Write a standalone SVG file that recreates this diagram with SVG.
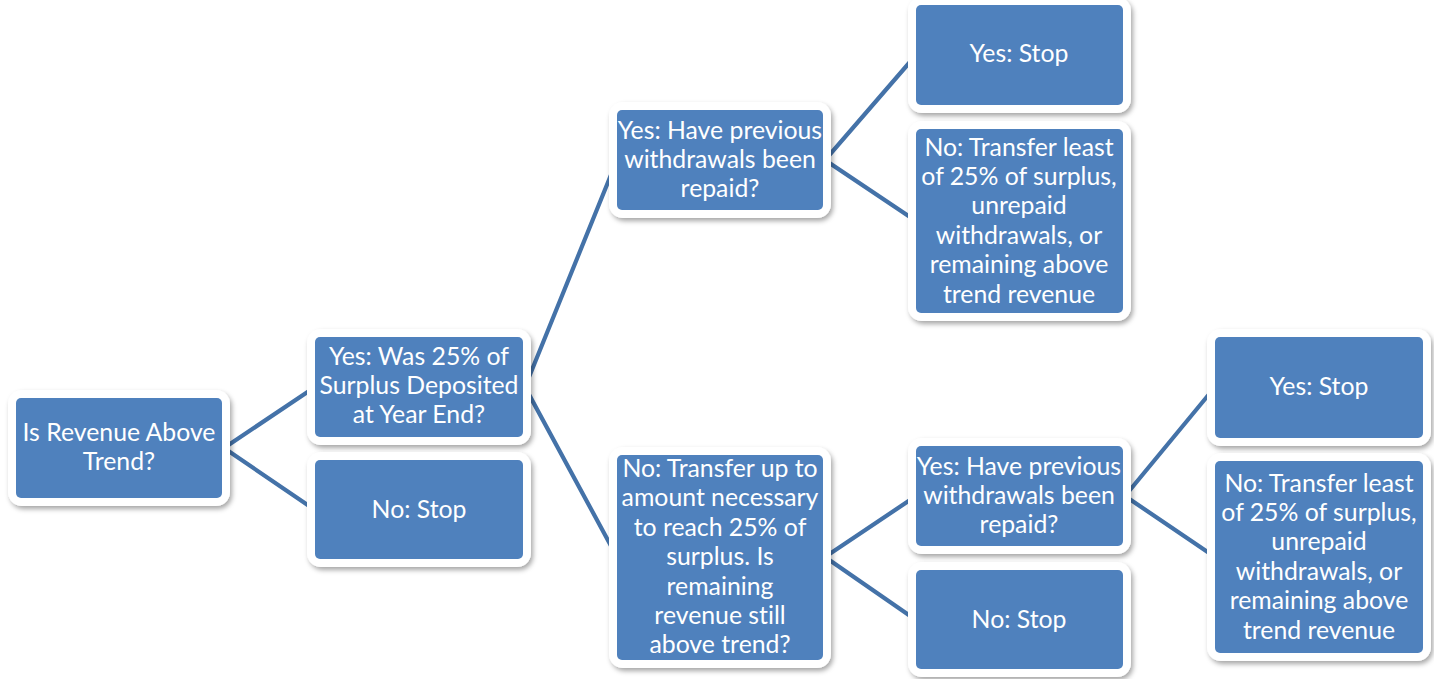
<svg xmlns="http://www.w3.org/2000/svg" width="1434" height="679" viewBox="0 0 1434 679">
<defs>
<style>
.frame{fill:#ffffff;filter:url(#sh);}
.box{fill:#4F81BD;}
.t{font-family:"Lato","Carlito","Calibri",sans-serif;font-size:24.8px;fill:#ffffff;text-anchor:middle;font-variant-ligatures:none;}
.c{stroke:#4472A8;stroke-width:4.2;fill:none;stroke-linejoin:miter;}
</style>
<filter id="sh" x="-20%" y="-20%" width="140%" height="140%">
<feDropShadow dx="2" dy="3" stdDeviation="2.5" flood-color="#000000" flood-opacity="0.35"/>
</filter>
</defs>
<rect width="1434" height="679" fill="#ffffff"/>
<g id="connectors">
<polyline class="c" points="315,387 224,448 315,510"/>
<polyline class="c" points="617,160 525,387 617,557"/>
<polyline class="c" points="916,55 825,160 916,221"/>
<polyline class="c" points="916,496 825,557 916,620"/>
<polyline class="c" points="1215,387 1125,496 1215,557"/>
</g>
<g id="n1">
<rect class="frame" x="8" y="390" width="222" height="116" rx="14"/>
<rect class="box" x="16" y="398" width="206" height="100" rx="5"/>
<text class="t"><tspan x="119" y="441">Is Revenue Above</tspan><tspan x="119" y="470">Trend?</tspan></text>
</g>
<g id="n2">
<rect class="frame" x="307" y="329" width="224" height="116" rx="14"/>
<rect class="box" x="315" y="337" width="208" height="100" rx="5"/>
<text class="t"><tspan x="419" y="365">Yes: Was 25% of</tspan><tspan x="419" y="394">Surplus Deposited</tspan><tspan x="419" y="423">at Year End?</tspan></text>
</g>
<g id="n3">
<rect class="frame" x="307" y="452" width="224" height="115" rx="14"/>
<rect class="box" x="315" y="460" width="208" height="99" rx="5"/>
<text class="t"><tspan x="419" y="518">No: Stop</tspan></text>
</g>
<g id="n4">
<rect class="frame" x="609" y="102" width="222" height="116" rx="14"/>
<rect class="box" x="617" y="110" width="206" height="100" rx="5"/>
<text class="t"><tspan x="720" y="139">Yes: Have previous</tspan><tspan x="720" y="168">withdrawals been</tspan><tspan x="720" y="197">repaid?</tspan></text>
</g>
<g id="n5">
<rect class="frame" x="908" y="-3" width="223" height="116" rx="14"/>
<rect class="box" x="916" y="5" width="207" height="100" rx="5"/>
<text class="t"><tspan x="1019" y="62">Yes: Stop</tspan></text>
</g>
<g id="n6">
<rect class="frame" x="908" y="121" width="223" height="200" rx="14"/>
<rect class="box" x="916" y="129" width="207" height="184" rx="5"/>
<text class="t"><tspan x="1019" y="155.5">No: Transfer least</tspan><tspan x="1019" y="184.9">of 25% of surplus,</tspan><tspan x="1019" y="214.3">unrepaid</tspan><tspan x="1019" y="243.7">withdrawals, or</tspan><tspan x="1019" y="273.1">remaining above</tspan><tspan x="1019" y="302.5">trend revenue</tspan></text>
</g>
<g id="n7">
<rect class="frame" x="609" y="447" width="222" height="221" rx="14"/>
<rect class="box" x="617" y="455" width="206" height="205" rx="5"/>
<text class="t"><tspan x="720" y="477">No: Transfer up to</tspan><tspan x="720" y="506.4">amount necessary</tspan><tspan x="720" y="535.8">to reach 25% of</tspan><tspan x="720" y="565.2">surplus. Is</tspan><tspan x="720" y="594.6">remaining</tspan><tspan x="720" y="624">revenue still</tspan><tspan x="720" y="653.4">above trend?</tspan></text>
</g>
<g id="n8">
<rect class="frame" x="908" y="438" width="223" height="116" rx="14"/>
<rect class="box" x="916" y="446" width="207" height="100" rx="5"/>
<text class="t"><tspan x="1019" y="475">Yes: Have previous</tspan><tspan x="1019" y="504">withdrawals been</tspan><tspan x="1019" y="533">repaid?</tspan></text>
</g>
<g id="n9">
<rect class="frame" x="908" y="562" width="223" height="115" rx="14"/>
<rect class="box" x="916" y="570" width="207" height="99" rx="5"/>
<text class="t"><tspan x="1019" y="628">No: Stop</tspan></text>
</g>
<g id="n10">
<rect class="frame" x="1207" y="329" width="224" height="117" rx="14"/>
<rect class="box" x="1215" y="337" width="208" height="101" rx="5"/>
<text class="t"><tspan x="1319" y="395">Yes: Stop</tspan></text>
</g>
<g id="n11">
<rect class="frame" x="1207" y="453" width="224" height="208" rx="14"/>
<rect class="box" x="1215" y="461" width="208" height="192" rx="5"/>
<text class="t"><tspan x="1319" y="491.5">No: Transfer least</tspan><tspan x="1319" y="520.9">of 25% of surplus,</tspan><tspan x="1319" y="550.3">unrepaid</tspan><tspan x="1319" y="579.7">withdrawals, or</tspan><tspan x="1319" y="609.1">remaining above</tspan><tspan x="1319" y="638.5">trend revenue</tspan></text>
</g>
</svg>
